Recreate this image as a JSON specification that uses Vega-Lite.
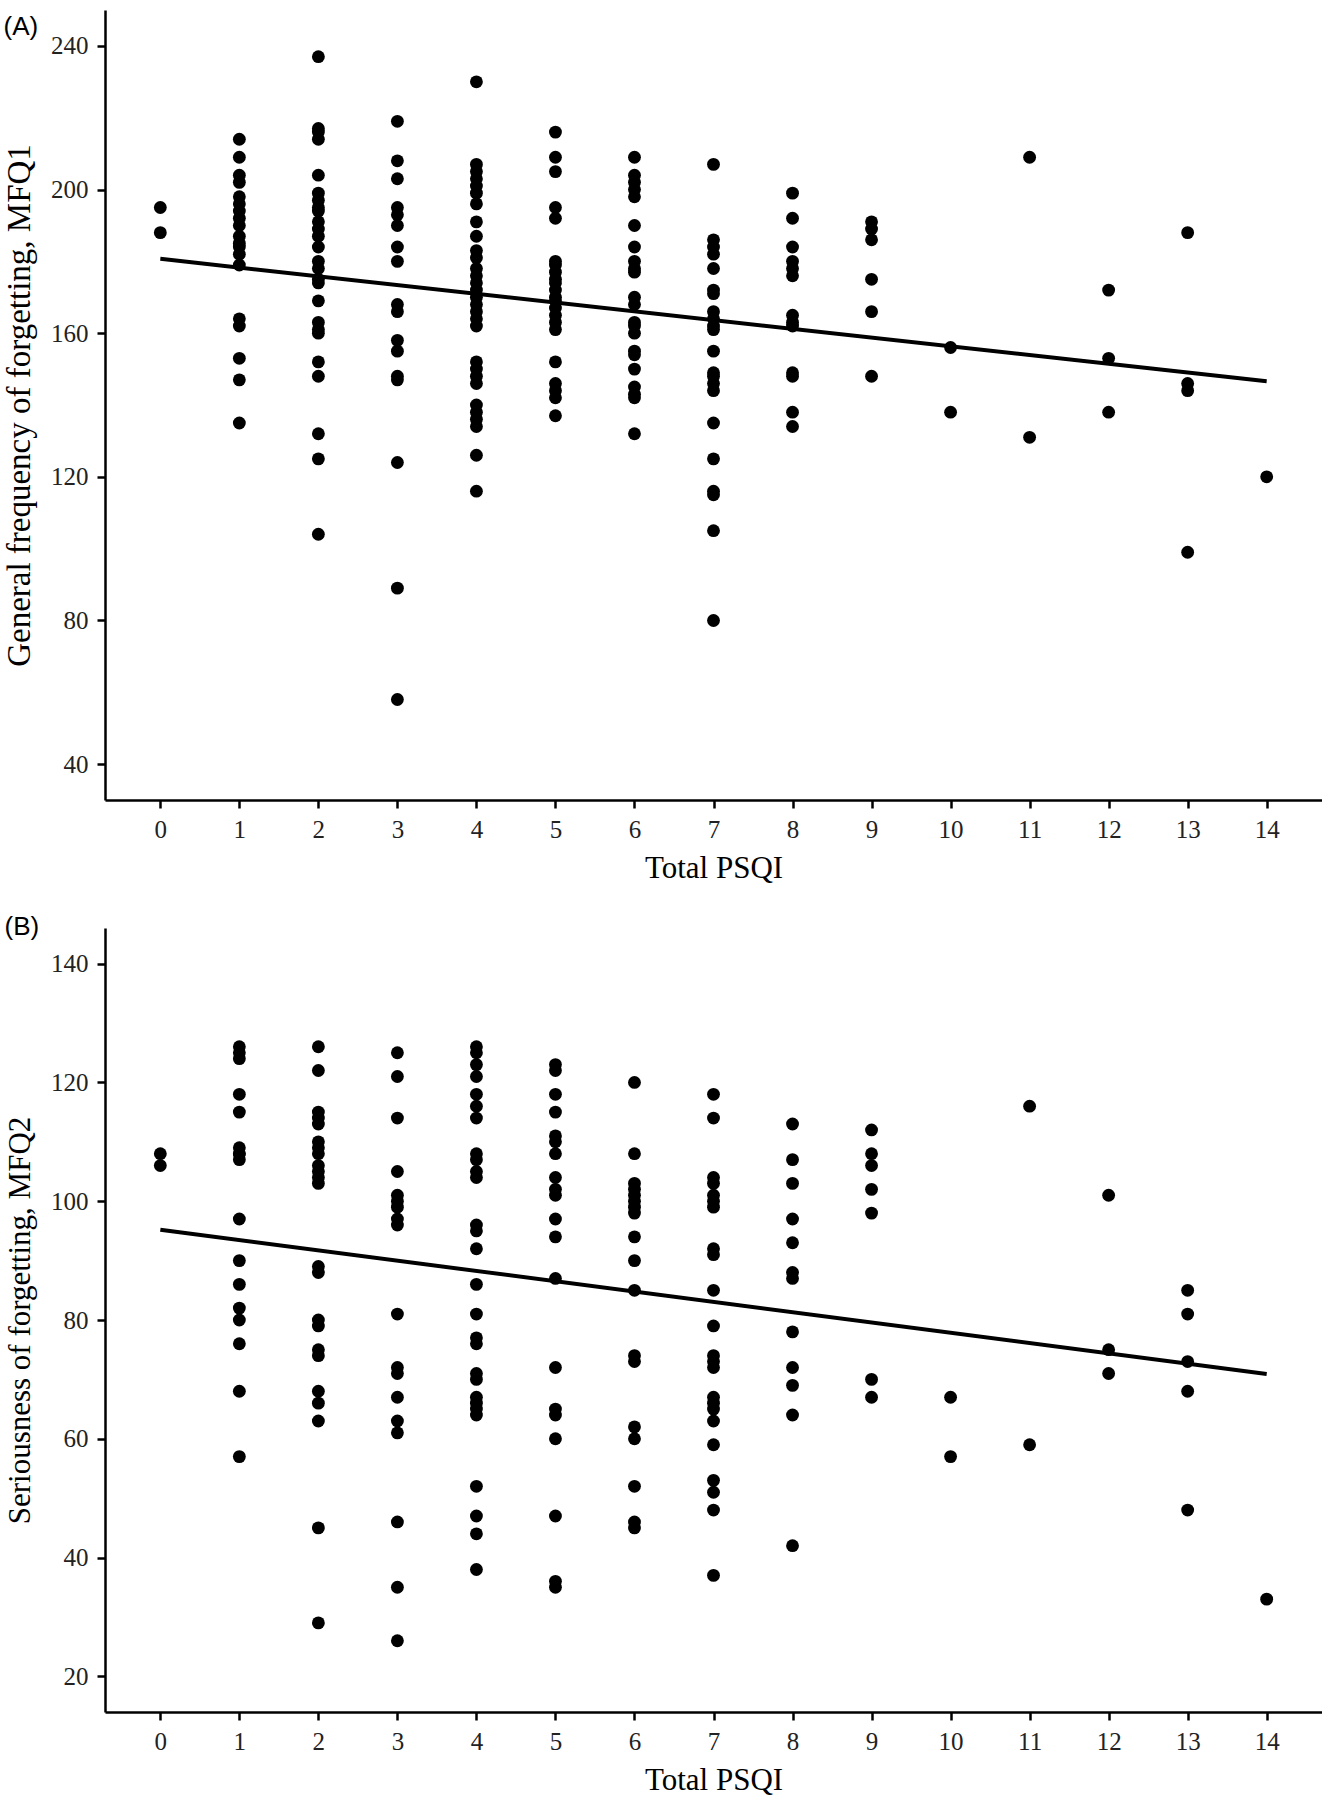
{
"$schema": "https://vega.github.io/schema/vega-lite/v6.json",
"background": "white",
"padding": {"left": 3, "top": 10, "right": 0, "bottom": 0},
"autosize": {"type": "pad"},
"spacing": 31,
"config": {
  "view": {"stroke": null},
  "axis": {"domainColor": "black", "domainWidth": 2.5, "tickColor": "black", "tickWidth": 2.5, "tickSize": 8, "labelFont": "Liberation Serif", "labelFontSize": 25, "labelColor": "#222", "labelPadding": 9, "titleFont": "Liberation Serif", "titleFontSize": 31, "titleFontWeight": "normal", "titleColor": "black", "grid": false}
},
"datasets": {
"mfq1": [
{"psqi":0,"mfq1":195},{"psqi":0,"mfq1":188},
{"psqi":1,"mfq1":214},{"psqi":1,"mfq1":209},{"psqi":1,"mfq1":204},{"psqi":1,"mfq1":202},{"psqi":1,"mfq1":198},{"psqi":1,"mfq1":196},{"psqi":1,"mfq1":194},{"psqi":1,"mfq1":192},{"psqi":1,"mfq1":190},{"psqi":1,"mfq1":187},{"psqi":1,"mfq1":185},{"psqi":1,"mfq1":184},{"psqi":1,"mfq1":182},{"psqi":1,"mfq1":179},{"psqi":1,"mfq1":164},{"psqi":1,"mfq1":162},{"psqi":1,"mfq1":153},{"psqi":1,"mfq1":147},{"psqi":1,"mfq1":135},
{"psqi":2,"mfq1":237},{"psqi":2,"mfq1":217},{"psqi":2,"mfq1":216},{"psqi":2,"mfq1":214},{"psqi":2,"mfq1":204},{"psqi":2,"mfq1":199},{"psqi":2,"mfq1":197},{"psqi":2,"mfq1":195},{"psqi":2,"mfq1":194},{"psqi":2,"mfq1":191},{"psqi":2,"mfq1":189},{"psqi":2,"mfq1":187},{"psqi":2,"mfq1":184},{"psqi":2,"mfq1":180},{"psqi":2,"mfq1":178},{"psqi":2,"mfq1":175},{"psqi":2,"mfq1":174},{"psqi":2,"mfq1":169},{"psqi":2,"mfq1":163},{"psqi":2,"mfq1":161},{"psqi":2,"mfq1":160},{"psqi":2,"mfq1":152},{"psqi":2,"mfq1":148},{"psqi":2,"mfq1":132},{"psqi":2,"mfq1":125},{"psqi":2,"mfq1":104},
{"psqi":3,"mfq1":219},{"psqi":3,"mfq1":208},{"psqi":3,"mfq1":203},{"psqi":3,"mfq1":195},{"psqi":3,"mfq1":193},{"psqi":3,"mfq1":190},{"psqi":3,"mfq1":184},{"psqi":3,"mfq1":180},{"psqi":3,"mfq1":168},{"psqi":3,"mfq1":166},{"psqi":3,"mfq1":158},{"psqi":3,"mfq1":155},{"psqi":3,"mfq1":148},{"psqi":3,"mfq1":147},{"psqi":3,"mfq1":124},{"psqi":3,"mfq1":89},{"psqi":3,"mfq1":58},
{"psqi":4,"mfq1":230},{"psqi":4,"mfq1":207},{"psqi":4,"mfq1":205},{"psqi":4,"mfq1":203},{"psqi":4,"mfq1":201},{"psqi":4,"mfq1":199},{"psqi":4,"mfq1":196},{"psqi":4,"mfq1":191},{"psqi":4,"mfq1":187},{"psqi":4,"mfq1":183},{"psqi":4,"mfq1":181},{"psqi":4,"mfq1":178},{"psqi":4,"mfq1":176},{"psqi":4,"mfq1":174},{"psqi":4,"mfq1":172},{"psqi":4,"mfq1":170},{"psqi":4,"mfq1":168},{"psqi":4,"mfq1":166},{"psqi":4,"mfq1":164},{"psqi":4,"mfq1":162},{"psqi":4,"mfq1":152},{"psqi":4,"mfq1":150},{"psqi":4,"mfq1":148},{"psqi":4,"mfq1":146},{"psqi":4,"mfq1":140},{"psqi":4,"mfq1":138},{"psqi":4,"mfq1":136},{"psqi":4,"mfq1":134},{"psqi":4,"mfq1":126},{"psqi":4,"mfq1":116},
{"psqi":5,"mfq1":216},{"psqi":5,"mfq1":209},{"psqi":5,"mfq1":205},{"psqi":5,"mfq1":195},{"psqi":5,"mfq1":192},{"psqi":5,"mfq1":180},{"psqi":5,"mfq1":179},{"psqi":5,"mfq1":177},{"psqi":5,"mfq1":175},{"psqi":5,"mfq1":174},{"psqi":5,"mfq1":172},{"psqi":5,"mfq1":170},{"psqi":5,"mfq1":169},{"psqi":5,"mfq1":167},{"psqi":5,"mfq1":165},{"psqi":5,"mfq1":163},{"psqi":5,"mfq1":161},{"psqi":5,"mfq1":152},{"psqi":5,"mfq1":146},{"psqi":5,"mfq1":144},{"psqi":5,"mfq1":142},{"psqi":5,"mfq1":137},
{"psqi":6,"mfq1":209},{"psqi":6,"mfq1":204},{"psqi":6,"mfq1":202},{"psqi":6,"mfq1":200},{"psqi":6,"mfq1":198},{"psqi":6,"mfq1":190},{"psqi":6,"mfq1":184},{"psqi":6,"mfq1":180},{"psqi":6,"mfq1":178},{"psqi":6,"mfq1":177},{"psqi":6,"mfq1":170},{"psqi":6,"mfq1":168},{"psqi":6,"mfq1":163},{"psqi":6,"mfq1":162},{"psqi":6,"mfq1":160},{"psqi":6,"mfq1":155},{"psqi":6,"mfq1":154},{"psqi":6,"mfq1":150},{"psqi":6,"mfq1":145},{"psqi":6,"mfq1":143},{"psqi":6,"mfq1":142},{"psqi":6,"mfq1":132},
{"psqi":7,"mfq1":207},{"psqi":7,"mfq1":186},{"psqi":7,"mfq1":184},{"psqi":7,"mfq1":182},{"psqi":7,"mfq1":178},{"psqi":7,"mfq1":172},{"psqi":7,"mfq1":171},{"psqi":7,"mfq1":166},{"psqi":7,"mfq1":164},{"psqi":7,"mfq1":162},{"psqi":7,"mfq1":161},{"psqi":7,"mfq1":155},{"psqi":7,"mfq1":149},{"psqi":7,"mfq1":148},{"psqi":7,"mfq1":146},{"psqi":7,"mfq1":144},{"psqi":7,"mfq1":135},{"psqi":7,"mfq1":125},{"psqi":7,"mfq1":116},{"psqi":7,"mfq1":115},{"psqi":7,"mfq1":105},{"psqi":7,"mfq1":80},
{"psqi":8,"mfq1":199},{"psqi":8,"mfq1":192},{"psqi":8,"mfq1":184},{"psqi":8,"mfq1":180},{"psqi":8,"mfq1":178},{"psqi":8,"mfq1":176},{"psqi":8,"mfq1":165},{"psqi":8,"mfq1":163},{"psqi":8,"mfq1":162},{"psqi":8,"mfq1":149},{"psqi":8,"mfq1":148},{"psqi":8,"mfq1":138},{"psqi":8,"mfq1":134},
{"psqi":9,"mfq1":191},{"psqi":9,"mfq1":189},{"psqi":9,"mfq1":186},{"psqi":9,"mfq1":175},{"psqi":9,"mfq1":166},{"psqi":9,"mfq1":148},
{"psqi":10,"mfq1":156},{"psqi":10,"mfq1":138},
{"psqi":11,"mfq1":209},{"psqi":11,"mfq1":131},
{"psqi":12,"mfq1":172},{"psqi":12,"mfq1":153},{"psqi":12,"mfq1":138},
{"psqi":13,"mfq1":188},{"psqi":13,"mfq1":146},{"psqi":13,"mfq1":144},{"psqi":13,"mfq1":99},
{"psqi":14,"mfq1":120}
],
"fit1": [{"psqi":0,"mfq1":180.7},{"psqi":14,"mfq1":146.6}],
"mfq2": [
{"psqi":0,"mfq2":108},{"psqi":0,"mfq2":106},
{"psqi":1,"mfq2":126},{"psqi":1,"mfq2":125},{"psqi":1,"mfq2":124},{"psqi":1,"mfq2":118},{"psqi":1,"mfq2":115},{"psqi":1,"mfq2":109},{"psqi":1,"mfq2":108},{"psqi":1,"mfq2":108},{"psqi":1,"mfq2":107},{"psqi":1,"mfq2":97},{"psqi":1,"mfq2":90},{"psqi":1,"mfq2":86},{"psqi":1,"mfq2":82},{"psqi":1,"mfq2":80},{"psqi":1,"mfq2":76},{"psqi":1,"mfq2":68},{"psqi":1,"mfq2":57},
{"psqi":2,"mfq2":126},{"psqi":2,"mfq2":122},{"psqi":2,"mfq2":115},{"psqi":2,"mfq2":114},{"psqi":2,"mfq2":113},{"psqi":2,"mfq2":110},{"psqi":2,"mfq2":109},{"psqi":2,"mfq2":108},{"psqi":2,"mfq2":106},{"psqi":2,"mfq2":105},{"psqi":2,"mfq2":104},{"psqi":2,"mfq2":103},{"psqi":2,"mfq2":89},{"psqi":2,"mfq2":88},{"psqi":2,"mfq2":80},{"psqi":2,"mfq2":79},{"psqi":2,"mfq2":75},{"psqi":2,"mfq2":74},{"psqi":2,"mfq2":68},{"psqi":2,"mfq2":66},{"psqi":2,"mfq2":63},{"psqi":2,"mfq2":45},{"psqi":2,"mfq2":29},
{"psqi":3,"mfq2":125},{"psqi":3,"mfq2":121},{"psqi":3,"mfq2":114},{"psqi":3,"mfq2":105},{"psqi":3,"mfq2":101},{"psqi":3,"mfq2":100},{"psqi":3,"mfq2":99},{"psqi":3,"mfq2":97},{"psqi":3,"mfq2":96},{"psqi":3,"mfq2":81},{"psqi":3,"mfq2":72},{"psqi":3,"mfq2":71},{"psqi":3,"mfq2":67},{"psqi":3,"mfq2":63},{"psqi":3,"mfq2":61},{"psqi":3,"mfq2":46},{"psqi":3,"mfq2":35},{"psqi":3,"mfq2":26},
{"psqi":4,"mfq2":126},{"psqi":4,"mfq2":125},{"psqi":4,"mfq2":123},{"psqi":4,"mfq2":121},{"psqi":4,"mfq2":118},{"psqi":4,"mfq2":116},{"psqi":4,"mfq2":114},{"psqi":4,"mfq2":108},{"psqi":4,"mfq2":107},{"psqi":4,"mfq2":105},{"psqi":4,"mfq2":104},{"psqi":4,"mfq2":96},{"psqi":4,"mfq2":95},{"psqi":4,"mfq2":92},{"psqi":4,"mfq2":86},{"psqi":4,"mfq2":81},{"psqi":4,"mfq2":77},{"psqi":4,"mfq2":76},{"psqi":4,"mfq2":71},{"psqi":4,"mfq2":70},{"psqi":4,"mfq2":67},{"psqi":4,"mfq2":66},{"psqi":4,"mfq2":65},{"psqi":4,"mfq2":64},{"psqi":4,"mfq2":52},{"psqi":4,"mfq2":47},{"psqi":4,"mfq2":44},{"psqi":4,"mfq2":38},
{"psqi":5,"mfq2":123},{"psqi":5,"mfq2":122},{"psqi":5,"mfq2":118},{"psqi":5,"mfq2":115},{"psqi":5,"mfq2":111},{"psqi":5,"mfq2":110},{"psqi":5,"mfq2":108},{"psqi":5,"mfq2":104},{"psqi":5,"mfq2":102},{"psqi":5,"mfq2":101},{"psqi":5,"mfq2":97},{"psqi":5,"mfq2":94},{"psqi":5,"mfq2":87},{"psqi":5,"mfq2":72},{"psqi":5,"mfq2":65},{"psqi":5,"mfq2":64},{"psqi":5,"mfq2":60},{"psqi":5,"mfq2":47},{"psqi":5,"mfq2":36},{"psqi":5,"mfq2":35},
{"psqi":6,"mfq2":120},{"psqi":6,"mfq2":108},{"psqi":6,"mfq2":103},{"psqi":6,"mfq2":102},{"psqi":6,"mfq2":101},{"psqi":6,"mfq2":100},{"psqi":6,"mfq2":99},{"psqi":6,"mfq2":98},{"psqi":6,"mfq2":94},{"psqi":6,"mfq2":90},{"psqi":6,"mfq2":85},{"psqi":6,"mfq2":74},{"psqi":6,"mfq2":73},{"psqi":6,"mfq2":62},{"psqi":6,"mfq2":60},{"psqi":6,"mfq2":52},{"psqi":6,"mfq2":46},{"psqi":6,"mfq2":45},
{"psqi":7,"mfq2":118},{"psqi":7,"mfq2":114},{"psqi":7,"mfq2":104},{"psqi":7,"mfq2":103},{"psqi":7,"mfq2":101},{"psqi":7,"mfq2":100},{"psqi":7,"mfq2":99},{"psqi":7,"mfq2":92},{"psqi":7,"mfq2":91},{"psqi":7,"mfq2":85},{"psqi":7,"mfq2":79},{"psqi":7,"mfq2":74},{"psqi":7,"mfq2":73},{"psqi":7,"mfq2":72},{"psqi":7,"mfq2":67},{"psqi":7,"mfq2":66},{"psqi":7,"mfq2":65},{"psqi":7,"mfq2":63},{"psqi":7,"mfq2":59},{"psqi":7,"mfq2":53},{"psqi":7,"mfq2":51},{"psqi":7,"mfq2":48},{"psqi":7,"mfq2":37},
{"psqi":8,"mfq2":113},{"psqi":8,"mfq2":107},{"psqi":8,"mfq2":103},{"psqi":8,"mfq2":97},{"psqi":8,"mfq2":93},{"psqi":8,"mfq2":88},{"psqi":8,"mfq2":87},{"psqi":8,"mfq2":78},{"psqi":8,"mfq2":72},{"psqi":8,"mfq2":69},{"psqi":8,"mfq2":64},{"psqi":8,"mfq2":42},
{"psqi":9,"mfq2":112},{"psqi":9,"mfq2":108},{"psqi":9,"mfq2":106},{"psqi":9,"mfq2":102},{"psqi":9,"mfq2":98},{"psqi":9,"mfq2":70},{"psqi":9,"mfq2":67},
{"psqi":10,"mfq2":67},{"psqi":10,"mfq2":57},
{"psqi":11,"mfq2":116},{"psqi":11,"mfq2":59},
{"psqi":12,"mfq2":101},{"psqi":12,"mfq2":75},{"psqi":12,"mfq2":71},
{"psqi":13,"mfq2":85},{"psqi":13,"mfq2":81},{"psqi":13,"mfq2":73},{"psqi":13,"mfq2":68},{"psqi":13,"mfq2":48},
{"psqi":14,"mfq2":33}
],
"fit2": [{"psqi":0,"mfq2":95.2},{"psqi":14,"mfq2":70.9}]
},
"vconcat": [
{
  "width": 1217, "height": 790,
  "title": {"text": "(A)", "anchor": "start", "frame": "bounds", "font": "Liberation Sans", "fontSize": 26, "fontWeight": "normal", "color": "black", "offset": 0, "dy": 30},
  "layer": [
    {"data": {"name": "mfq1"}, "mark": {"type": "circle", "size": 165, "opacity": 1, "color": "black"},
     "encoding": {
       "x": {"field": "psqi", "type": "quantitative", "scale": {"domain": [-0.7, 14.7], "nice": false, "zero": false}, "axis": {"values": [0,1,2,3,4,5,6,7,8,9,10,11,12,13,14], "format": "d", "title": "Total PSQI", "titlePadding": 11}},
       "y": {"field": "mfq1", "type": "quantitative", "scale": {"domain": [30, 250], "nice": false, "zero": false}, "axis": {"values": [40,80,120,160,200,240], "title": "General frequency of forgetting, MFQ1", "titleFontSize": 33, "titlePadding": 14}}
     }},
    {"data": {"name": "fit1"}, "mark": {"type": "line", "color": "black", "strokeWidth": 4},
     "encoding": {"x": {"field": "psqi", "type": "quantitative"}, "y": {"field": "mfq1", "type": "quantitative"}}}
  ]
},
{
  "width": 1217, "height": 784,
  "title": {"text": "(B)", "anchor": "start", "frame": "bounds", "font": "Liberation Sans", "fontSize": 26, "fontWeight": "normal", "color": "black", "offset": 0, "dy": 12},
  "layer": [
    {"data": {"name": "mfq2"}, "mark": {"type": "circle", "size": 165, "opacity": 1, "color": "black"},
     "encoding": {
       "x": {"field": "psqi", "type": "quantitative", "scale": {"domain": [-0.7, 14.7], "nice": false, "zero": false}, "axis": {"values": [0,1,2,3,4,5,6,7,8,9,10,11,12,13,14], "format": "d", "title": "Total PSQI", "titlePadding": 11}},
       "y": {"field": "mfq2", "type": "quantitative", "scale": {"domain": [14, 146], "nice": false, "zero": false}, "axis": {"values": [20,40,60,80,100,120,140], "title": "Seriousness of forgetting, MFQ2", "titlePadding": 14}}
     }},
    {"data": {"name": "fit2"}, "mark": {"type": "line", "color": "black", "strokeWidth": 4},
     "encoding": {"x": {"field": "psqi", "type": "quantitative"}, "y": {"field": "mfq2", "type": "quantitative"}}}
  ]
}
]
}
